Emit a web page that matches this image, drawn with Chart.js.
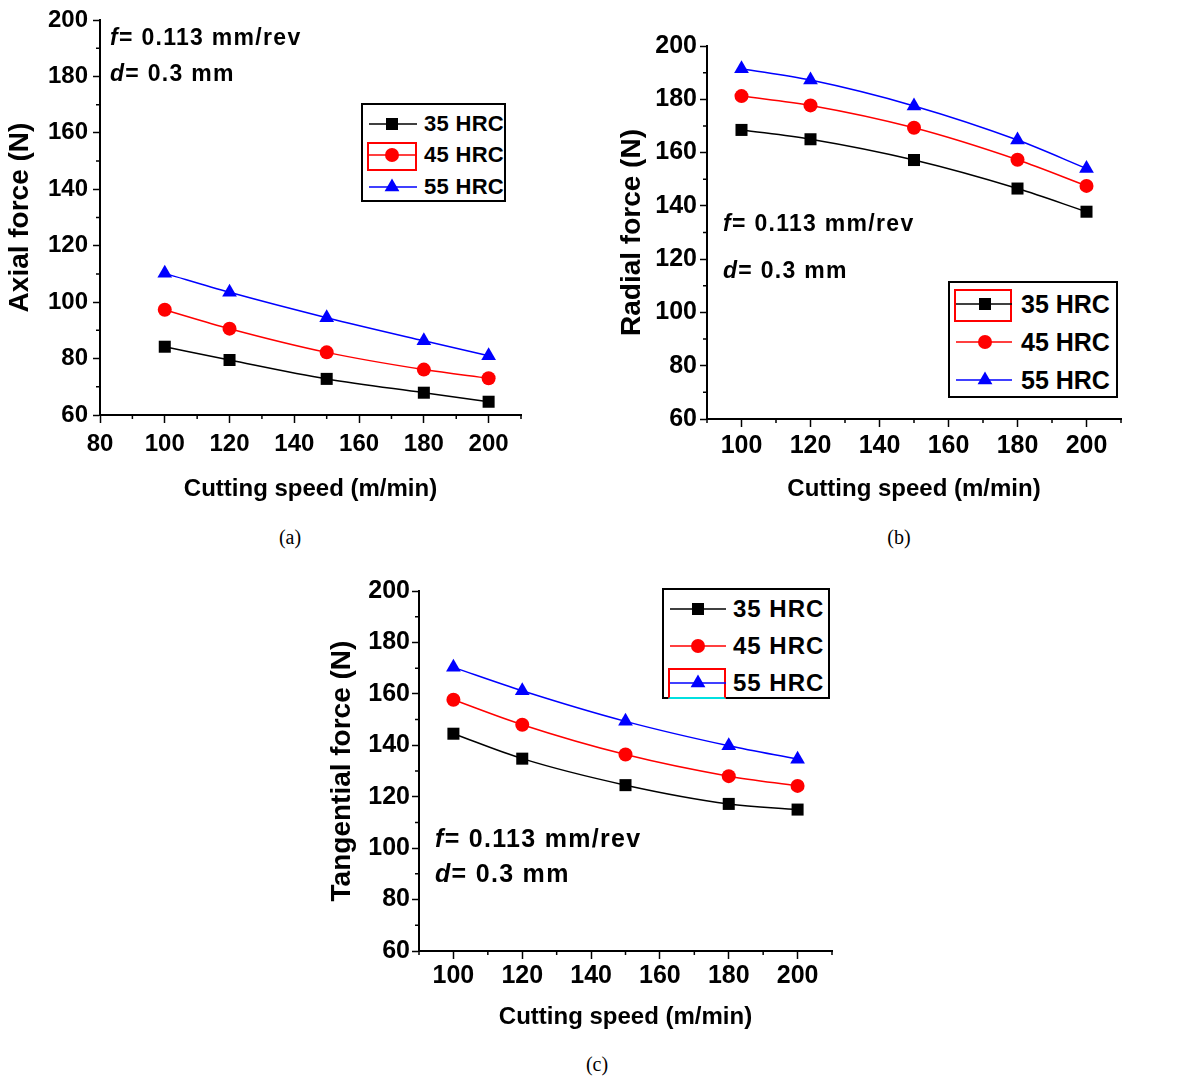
<!DOCTYPE html>
<html>
<head>
<meta charset="utf-8">
<script src="https://cdn.jsdelivr.net/npm/chart.js@4.4.1/dist/chart.umd.min.js"></script>
<style>
  body { margin: 0; background: #fff; font-family: "Liberation Sans", Arial, sans-serif; }
  #page { position: relative; width: 1183px; height: 1078px; overflow: hidden; }
  .plot { position: absolute; }
  .note { position: absolute; font-weight: bold; line-height: 1; white-space: nowrap; color: #000; }
  .cap { position: absolute; width: 60px; text-align: center; font-family: "Liberation Serif", "Times New Roman", serif; font-size: 20px; line-height: 1; }
  .legend { position: absolute; border: 2px solid #000; background: #fff; box-sizing: border-box; }
  .legend .row { position: absolute; left: 0; right: 0; height: 0; }
  .legend .lbl { position: absolute; font-weight: bold; line-height: 1; white-space: nowrap; }
  .legend svg { position: absolute; overflow: visible; }
  .legend .hl { position: absolute; border: 2px solid #ff0000; box-sizing: border-box; }
</style>
</head>
<body>
<div id="page">
  <canvas id="chartA" class="plot" width="545" height="510" style="left:0;top:0"></canvas>
  <canvas id="chartB" class="plot" width="560" height="510" style="left:590px;top:0"></canvas>
  <canvas id="chartC" class="plot" width="560" height="480" style="left:310px;top:570px"></canvas>

  <div class="note" style="left:110px;top:26px;font-size:23px;letter-spacing:1.3px"><i>f</i>= 0.113 mm/rev</div>
  <div class="note" style="left:110px;top:62px;font-size:23px;letter-spacing:1.3px"><i>d</i>= 0.3 mm</div>
  <div class="note" style="left:723px;top:212px;font-size:23px;letter-spacing:1.3px"><i>f</i>= 0.113 mm/rev</div>
  <div class="note" style="left:723px;top:259px;font-size:23px;letter-spacing:1.3px"><i>d</i>= 0.3 mm</div>
  <div class="note" style="left:435px;top:826px;font-size:25px;letter-spacing:1.3px"><i>f</i>= 0.113 mm/rev</div>
  <div class="note" style="left:435px;top:861px;font-size:25px;letter-spacing:1.3px"><i>d</i>= 0.3 mm</div>

  <div class="cap" style="left:260px;top:527px">(a)</div>
  <div class="cap" style="left:869px;top:527px">(b)</div>
  <div class="cap" style="left:567px;top:1054px">(c)</div>
</div>

<script>
// cutting speed (m/min)
const speeds = [100, 120, 150, 180, 200];

// hardness series
const seriesLabels = ['35 HRC', '45 HRC', '55 HRC'];
const seriesColors = ['#000000', '#ff0000', '#0000ff'];
const seriesMarkers = ['rect', 'circle', 'triangle'];

// (a) axial force (N)
const axial35 = [84.2, 79.5, 72.8, 67.9, 64.7];
const axial45 = [97.3, 90.6, 82.2, 76.1, 73.0];
const axial55 = [110.2, 103.5, 94.5, 86.3, 81.0];

// (b) radial force (N)
const radial35 = [168.5, 165.0, 157.2, 146.5, 137.8];
const radial45 = [181.2, 177.7, 169.3, 157.3, 147.5];
const radial55 = [191.5, 187.2, 177.5, 164.7, 154.0];

// (c) tangential force (N)
const tang35 = [144.5, 134.8, 124.5, 117.2, 115.0];
const tang45 = [157.7, 148.0, 136.4, 128.0, 124.2];
const tang55 = [170.3, 161.2, 149.3, 139.8, 134.6];

// tick labels
const yTicks = [60, 80, 100, 120, 140, 160, 180, 200];
const xTicksA = [80, 100, 120, 140, 160, 180, 200];
const xTicksBC = [100, 120, 140, 160, 180, 200];

const FONT = '"Liberation Sans", Arial, sans-serif';

// short minor ticks between the major ones (Origin style)
const minorTicks = {
  id: 'minorTicks',
  afterDraw(chart) {
    const { ctx, scales: { x, y } } = chart;
    ctx.save();
    ctx.strokeStyle = '#000';
    ctx.lineWidth = 1.5;
    ctx.beginPath();
    for (let v = x.min; v <= x.max + 0.01; v += 10) {
      if (x.ticks.some(t => t.value === v)) continue;
      const px = x.getPixelForValue(v);
      ctx.moveTo(px, x.top);
      ctx.lineTo(px, x.top + 4);
    }
    for (let v = y.min; v <= y.max + 0.01; v += 10) {
      if (y.ticks.some(t => t.value === v)) continue;
      const py = y.getPixelForValue(v);
      ctx.moveTo(y.right, py);
      ctx.lineTo(y.right - 4, py);
    }
    ctx.stroke();
    ctx.restore();
  }
};

function makeChart(id, values, cfg) {
  const datasets = values.map((vals, i) => ({
    label: seriesLabels[i],
    data: speeds.map((s, j) => ({ x: s, y: vals[j] })),
    borderColor: seriesColors[i],
    backgroundColor: seriesColors[i],
    borderWidth: 1.5,
    pointStyle: seriesMarkers[i],
    pointRadius: [8.5, 7, 8.5][i],
    pointBorderWidth: 0,
    cubicInterpolationMode: 'monotone'
  }));

  new Chart(document.getElementById(id), {
    type: 'line',
    data: { datasets },
    options: {
      responsive: false,
      animation: false,
      layout: { padding: { top: cfg.padTop, right: cfg.padRight, left: 0, bottom: 0 } },
      plugins: { legend: { display: false }, tooltip: { enabled: false } },
      scales: {
        x: {
          type: 'linear',
          min: cfg.xMin, max: 210,
          afterBuildTicks: s => { s.ticks = cfg.xTicks.map(v => ({ value: v })); },
          afterFit: s => { s.height = cfg.xHeight; },
          border: { display: true, color: '#000', width: 2 },
          grid: { drawOnChartArea: false, tickLength: 8, tickWidth: 1.5, tickColor: '#000' },
          ticks: { color: '#000', padding: cfg.xPad, font: { family: FONT, size: cfg.tickSize, weight: 'bold' }, maxRotation: 0 },
          title: { display: true, text: 'Cutting speed (m/min)', color: '#000',
                   padding: { top: 0, bottom: cfg.xTitlePad }, font: { family: FONT, size: 24, weight: 'bold' } }
        },
        y: {
          type: 'linear',
          min: 60, max: 200,
          afterBuildTicks: s => { s.ticks = yTicks.map(v => ({ value: v })); },
          afterFit: s => { s.width = cfg.yWidth; },
          border: { display: true, color: '#000', width: 2 },
          grid: { drawOnChartArea: false, tickLength: 7, tickWidth: 1.5, tickColor: '#000' },
          ticks: { color: '#000', padding: cfg.yPad, font: { family: FONT, size: cfg.tickSize, weight: 'bold' } },
          title: { display: true, text: cfg.yTitle, color: '#000',
                   padding: { top: cfg.yTitlePad, bottom: 0 }, font: { family: FONT, size: 28, weight: 'bold' } }
        }
      }
    },
    plugins: [minorTicks]
  });
}

makeChart('chartA', [axial35, axial45, axial55], {
  yTitle: 'Axial force (N)', xMin: 80, xTicks: xTicksA,
  padTop: 20, padRight: 24, xHeight: 95, yWidth: 100,
  tickSize: 24, xPad: 7, yPad: 5, xTitlePad: 6, yTitlePad: 3
});
makeChart('chartB', [radial35, radial45, radial55], {
  yTitle: 'Radial force (N)', xMin: 90, xTicks: xTicksBC,
  padTop: 46, padRight: 29, xHeight: 91, yWidth: 117,
  tickSize: 25, xPad: 4, yPad: 3, xTitlePad: 6, yTitlePad: 25
});
makeChart('chartC', [tang35, tang45, tang55], {
  yTitle: 'Tangential force (N)', xMin: 90, xTicks: xTicksBC,
  padTop: 21, padRight: 38, xHeight: 99, yWidth: 109,
  tickSize: 25, xPad: 2, yPad: 2, xTitlePad: 18, yTitlePad: 15
});

// boxed legends inside the plots, built from the series arrays
function markerSvg(kind, color, cx) {
  if (kind === 'rect') return `<rect x="${cx - 6}" y="-6" width="12" height="12" fill="${color}"/>`;
  if (kind === 'circle') return `<circle cx="${cx}" cy="0" r="7" fill="${color}"/>`;
  return `<polygon points="${cx},-8.5 ${cx + 7.4},4.2 ${cx - 7.4},4.2" fill="${color}"/>`;
}

function makeLegend(box) {
  const el = document.createElement('div');
  el.className = 'legend';
  el.style.cssText = `left:${box.left}px;top:${box.top}px;width:${box.w}px;height:${box.h}px`;
  if (box.hl) {
    const hl = document.createElement('div');
    hl.className = 'hl';
    hl.style.cssText = `left:${box.hl[0]}px;top:${box.hl[1]}px;width:${box.hl[2]}px;height:${box.hl[3]}px;` +
      (box.hlCyan ? 'border-bottom-color:#00e0e0;' : '');
    el.appendChild(hl);
  }
  seriesLabels.forEach((label, i) => {
    const row = document.createElement('div');
    row.className = 'row';
    row.style.top = (box.rows[i] - 2) + 'px';
    const w = box.lineEnd;
    row.innerHTML =
      `<svg width="${w}" height="1" style="left:0;top:0">` +
      `<line x1="${box.lineStart}" y1="0" x2="${w}" y2="0" stroke="${seriesColors[i]}" stroke-width="1.5"/>` +
      markerSvg(seriesMarkers[i], seriesColors[i], box.marker) + `</svg>` +
      `<span class="lbl" style="left:${box.text}px;top:${-box.font * 0.49}px;font-size:${box.font}px;letter-spacing:${box.ls}px">${label}</span>`;
    el.appendChild(row);
  });
  document.getElementById('page').appendChild(el);
}

makeLegend({ left: 361, top: 103, w: 145, h: 99, rows: [21, 52, 84], lineStart: 6, lineEnd: 54,
             marker: 29, text: 61, font: 22, ls: 0.3, hl: [4, 37, 50, 29] });
makeLegend({ left: 948, top: 281, w: 170, h: 117, rows: [23, 61, 99], lineStart: 6, lineEnd: 62,
             marker: 35, text: 71, font: 25, ls: 0, hl: [4, 6, 58, 33] });
makeLegend({ left: 662, top: 588, w: 168, h: 111, rows: [21, 58, 95], lineStart: 6, lineEnd: 62,
             marker: 34, text: 69, font: 24, ls: 1, hl: [4, 78, 58, 31], hlCyan: true });
</script>
</body>
</html>
